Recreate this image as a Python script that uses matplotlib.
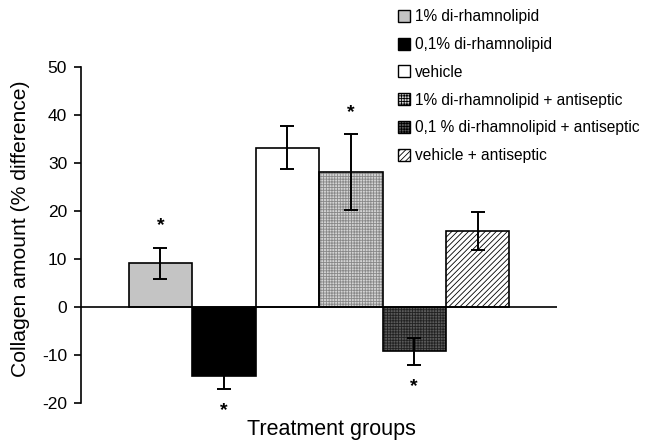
import matplotlib.pyplot as plt
from matplotlib.patches import Patch

# values
groups = ["1% di-rhamnolipid", "0,1% di-rhamnolipid", "vehicle",
          "1% di-rhamnolipid + antiseptic", "0,1 % di-rhamnolipid + antiseptic",
          "vehicle + antiseptic"]
values = [9.1, -14.3, 33.2, 28.2, -9.2, 15.9]
errors = [3.3, 2.7, 4.5, 7.9, 2.8, 4.0]
significant = [True, True, False, True, True, False]

faces = ["#c4c4c4", "black", "white", "#d4d4d4", "#5a5a5a", "white"]
hatches = [None, None, None, "++++++", "++++++", "//////"]
hatch_cols = ["black", "black", "black", "#888888", "#222222", "black"]

plt.rcParams['font.family'] = ['Liberation Sans', 'DejaVu Sans']
plt.rcParams['hatch.linewidth'] = 0.6
plt.rcParams['axes.unicode_minus'] = False

fig = plt.figure(figsize=(6.47, 4.47), dpi=100)
ax = fig.add_axes([0.1252, 0.0984, 0.7358, 0.7516])

x = list(range(len(groups)))
# hatch layer (hatch takes edge colour), then black outline on top
ax.bar(x, values, width=1.0, color=faces, edgecolor=hatch_cols, hatch=hatches, linewidth=0)
ax.bar(x, values, width=1.0, fill=False, edgecolor="black", linewidth=1.2)
ax.errorbar(x, values, yerr=errors, fmt="none", ecolor="black",
            elinewidth=1.4, capsize=5, capthick=1.4)

for xi, v, e, s in zip(x, values, errors, significant):
    if s:
        if v > 0:
            ax.text(xi, v + e + 4.5, "*", ha="center", va="center", fontsize=14, fontweight="bold")
        else:
            ax.text(xi, v - e - 4.5, "*", ha="center", va="center", fontsize=14, fontweight="bold")

ax.axhline(0, color="black", linewidth=1.2)
ax.set_xlim(-1.25, 6.25)
ax.set_ylim(-20, 50)
ax.set_yticks(range(-20, 51, 10))
ax.set_xticks([])
for s in ["top", "right", "bottom"]:
    ax.spines[s].set_visible(False)
ax.spines["left"].set_linewidth(1.2)
ax.tick_params(axis="y", direction="out", length=5, width=1.2, labelsize=12.5, pad=5)

ax.set_ylabel("Collagen amount (% difference)", fontsize=15.2)
ax.yaxis.set_label_coords(-0.108, 0.518)
fig.text(0.513, 0.04, "Treatment groups", ha="center", va="center", fontsize=15.5)

handles = [Patch(facecolor=f, edgecolor="black", hatch=h, linewidth=1.0)
           for f, h in zip(faces, hatches)]
fig.legend(handles, groups, loc="upper left", bbox_to_anchor=(0.6, 1.0),
           frameon=False, fontsize=11.2, handlelength=0.8, handleheight=0.8,
           handletextpad=0.3, labelspacing=0.82, borderaxespad=0.2)

fig.savefig("out.png", dpi=100)
